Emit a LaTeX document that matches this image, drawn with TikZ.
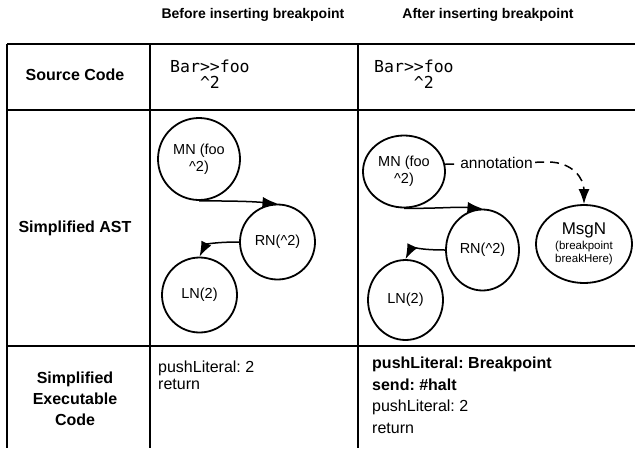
\documentclass[tikz,border=0pt]{standalone}
\usepackage{fontspec}
\setmainfont{Liberation Sans}
\newfontfamily\codefont{DejaVu Sans Mono}
\usetikzlibrary{arrows.meta,shapes.geometric}
\frenchspacing

\begin{document}
\begin{tikzpicture}[x=1pt,y=-1pt,every node/.style={align=center,inner sep=0pt},
    astnode/.style={draw,shape=ellipse,line width=1.8pt,font=\fontsize{14.5}{17}\selectfont},
    grid/.style={line width=1.5pt},
    edge/.style={line width=1.5pt,-{Latex[length=15pt,width=11pt]}},
    header/.style={font=\bfseries\fontsize{14}{17}\selectfont},
    rowlabel/.style={font=\bfseries\fontsize{16}{21}\selectfont},
    code/.style={anchor=north west,align=left,font=\codefont\fontsize{16.5}{16}\selectfont},
    body/.style={anchor=north west,align=left}]
  \useasboundingbox (0,0) rectangle (635,448);
  % table
  \draw[grid] (7,44) -- (635,44) (7,110) -- (635,110) (7,346) -- (635,346);
  \draw[grid] (7,44) -- (7,448) (150,44) -- (150,448) (358,44) -- (358,448);
  % headings
  \node[header] (before) at (253,15) {Before inserting breakpoint};
  \node[header] (after) at (488,15) {After inserting breakpoint};
  \node[rowlabel] (src) at (75,75) {Source Code};
  \node[rowlabel] (ast) at (75,228) {Simplified AST};
  \node[rowlabel] (exe) at (75,399) {Simplified\\Executable\\Code};
  % source code
  \node[code] (src1) at (170,60) {Bar>>foo\\\hphantom{Bar}\textasciicircum2};
  \node[code] (src2) at (374,60) {Bar>>foo\\\hphantom{Bar>}\textasciicircum2};
  % AST before
  \node[astnode,minimum width=82pt,minimum height=82pt] (mn1) at (199,159) {MN (foo\\\textasciicircum2)};
  \node[astnode,minimum width=75pt,minimum height=75pt] (rn1) at (277.5,242) {RN(\textasciicircum2)};
  \node[astnode,minimum width=75pt,minimum height=75pt] (ln1) at (199.5,295) {LN(2)};
  \draw[edge] (mn1.south) .. controls +(40,0) and +(-25,-2) .. (rn1.north);
  \draw[edge] (rn1.west) .. controls +(-25,0) and +(6,-12) .. (ln1.north);
  % AST after
  \node[astnode,minimum width=82pt,minimum height=72pt] (mn2) at (404,171.5) {MN (foo\\\textasciicircum2)};
  \node[astnode,minimum width=73pt,minimum height=81pt] (rn2) at (482.5,250) {RN(\textasciicircum2)};
  \node[astnode,minimum width=75pt,minimum height=80pt] (ln2) at (405.5,300) {LN(2)};
  \node[astnode,minimum width=96pt,minimum height=78pt] (msg) at (584,244)
    {\fontsize{17}{19}\selectfont MsgN\\[-2pt]\fontsize{11.5}{14}\selectfont(breakpoint\\[-4pt]\fontsize{11.5}{14}\selectfont breakHere)};
  \coordinate (bend) at (548,162);
  \draw[edge] (mn2.south) .. controls +(40,0) and +(-25,-2) .. (rn2.north);
  \draw[edge] (rn2.west) .. controls +(-25,0) and +(6,-12) .. (ln2.north);
  \draw[edge,dash pattern=on 9pt off 6pt] (mn2.10) -- node[fill=white,inner sep=1pt,font=\fontsize{15.5}{17}\selectfont] (ann) {annotation} (bend)
    .. controls +(25,0) and +(0,-25) .. (msg.north);
  % executable code
  \node[body,font=\fontsize{16}{17}\selectfont] (exe1) at (158,361) {pushLiteral: 2\\return};
  \node[body,font=\fontsize{16}{21.5}\selectfont] (exe2) at (372,357)
    {\textbf{pushLiteral: Breakpoint}\\\textbf{send: \#halt}\\pushLiteral: 2\\return};
\end{tikzpicture}
\end{document}
